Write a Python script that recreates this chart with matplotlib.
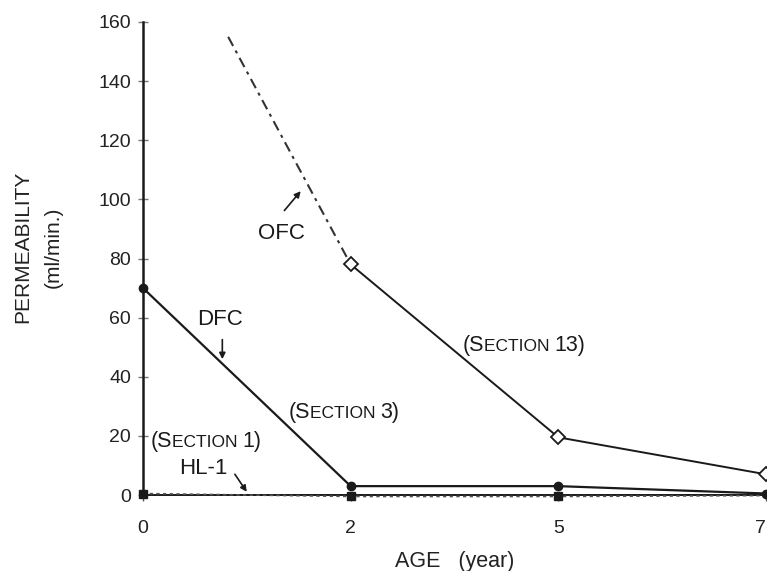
import matplotlib
matplotlib.use("Agg")
import matplotlib.pyplot as plt
from matplotlib.offsetbox import TextArea, HPacker, AnnotationBbox

# ---- data ----
age_labels = ["0", "2", "5", "7"]
age_pos = [0, 1, 2, 3]
dfc = [70, 3, 3, 0.5]
ofc_pos = [1, 2, 3]
ofc = [78, 19.5, 7]
ofc_early_pos = [0.41, 1]
ofc_early = [155, 78]
hl1 = [0.5, -0.5, -0.5, -0.2]
hl1_marker_pos = [0, 1, 2]
hl1_marker = [0.5, -0.5, -0.5]
yticks = [0, 20, 40, 60, 80, 100, 120, 140, 160]

W, H = 767, 571
fig = plt.figure(figsize=(W / 100, H / 100), dpi=100)
ax = fig.add_axes([143 / W, 1 - 495 / H, (766 - 143) / W, (495 - 22) / H])

tick_font = ["Liberation Sans", "DejaVu Sans"]
ann_font = ["Liberation Sans Narrow", "Liberation Sans", "DejaVu Sans"]
ink = "#1a1a1a"

# OFC dashed early part
ax.plot(ofc_early_pos, ofc_early, color="#333333", lw=1.5,
        linestyle=(0, (5, 2.5, 1.5, 2.5)), zorder=3)
# OFC solid
ax.plot(ofc_pos, ofc, color=ink, lw=1.4, marker="D", ms=7, mfc="white",
        mec=ink, mew=1.3, zorder=4, clip_on=False)
# DFC
ax.plot(age_pos, dfc, color=ink, lw=1.6, marker="o", ms=6, mfc=ink,
        mec=ink, zorder=4, clip_on=False)
# HL-1
ax.plot(age_pos, hl1, color="#555555", lw=1.2, linestyle=(0, (2, 2)),
        zorder=3, clip_on=False)
ax.plot(hl1_marker_pos, hl1_marker, linestyle="none", marker="s", ms=6,
        color=ink, zorder=5, clip_on=False)

ax.set_xlim(0, 3)
ax.set_ylim(0, 160)
ax.set_xticks(age_pos)
ax.set_xticklabels(age_labels)
ax.set_yticks(yticks)
for s in ["top", "right"]:
    ax.spines[s].set_visible(False)
ax.spines["left"].set_linewidth(1.8)
ax.spines["bottom"].set_linewidth(1.4)
ax.spines["left"].set_color(ink)
ax.spines["bottom"].set_color(ink)
ax.tick_params(axis="y", direction="inout", length=7, width=1.0,
               colors="#777777", labelcolor="#222222", pad=5, labelsize=14)
ax.tick_params(axis="x", direction="out", length=4, width=1.0,
               colors="#555555", labelcolor="#222222", pad=14, labelsize=14)
for lab in ax.get_xticklabels() + ax.get_yticklabels():
    lab.set_family(tick_font)
ax.get_xticklabels()[-1].set_horizontalalignment("right")

# axis labels
fig.text(23 / W, 1 - 247 / H, "PERMEABILITY", rotation=90, ha="center",
         va="center", fontsize=15, family=tick_font, color="#222222")
fig.text(53 / W, 1 - 247 / H, "(ml/min.)", rotation=90, ha="center",
         va="center", fontsize=15, family=tick_font, color="#222222")
fig.text(455 / W, 1 - 562 / H, "AGE   (year)", ha="center", va="center",
         fontsize=15.5, family=tick_font, color="#222222")


def smallcaps(x, y, big1, small, big2=""):
    parts = [TextArea(big1, textprops=dict(fontsize=15.5, family=ann_font, color=ink)),
             TextArea(small, textprops=dict(fontsize=12.5, family=ann_font, color=ink))]
    if big2:
        parts.append(TextArea(big2, textprops=dict(fontsize=15.5, family=ann_font, color=ink)))
    pack = HPacker(children=parts, align="baseline", pad=0, sep=0)
    ab = AnnotationBbox(pack, (x, y), xycoords="data", frameon=False,
                        box_alignment=(0, 0.5), annotation_clip=False)
    ax.add_artist(ab)


smallcaps(0.035, 18, "(S", "ECTION ", "1)")
smallcaps(0.70, 28, "(S", "ECTION ", "3)")
smallcaps(1.54, 50.5, "(S", "ECTION ", "13)")

ax.text(0.372, 59.5, "DFC", ha="center", va="center", fontsize=16,
        family=ann_font, color=ink)
ax.text(0.667, 88.5, "OFC", ha="center", va="center", fontsize=16,
        family=ann_font, color=ink)
ax.text(0.29, 9.0, "HL-1", ha="center", va="center", fontsize=16,
        family=ann_font, color=ink)

arrow = dict(arrowstyle="-|>", color=ink, lw=1.2, mutation_scale=9)
ax.annotate("", xy=(0.382, 45), xytext=(0.382, 53.5), arrowprops=arrow)
ax.annotate("", xy=(0.768, 103.5), xytext=(0.672, 95.5), arrowprops=arrow)
ax.annotate("", xy=(0.507, 0.3), xytext=(0.435, 7.8), arrowprops=arrow)

fig.savefig("out.png", dpi=100)
